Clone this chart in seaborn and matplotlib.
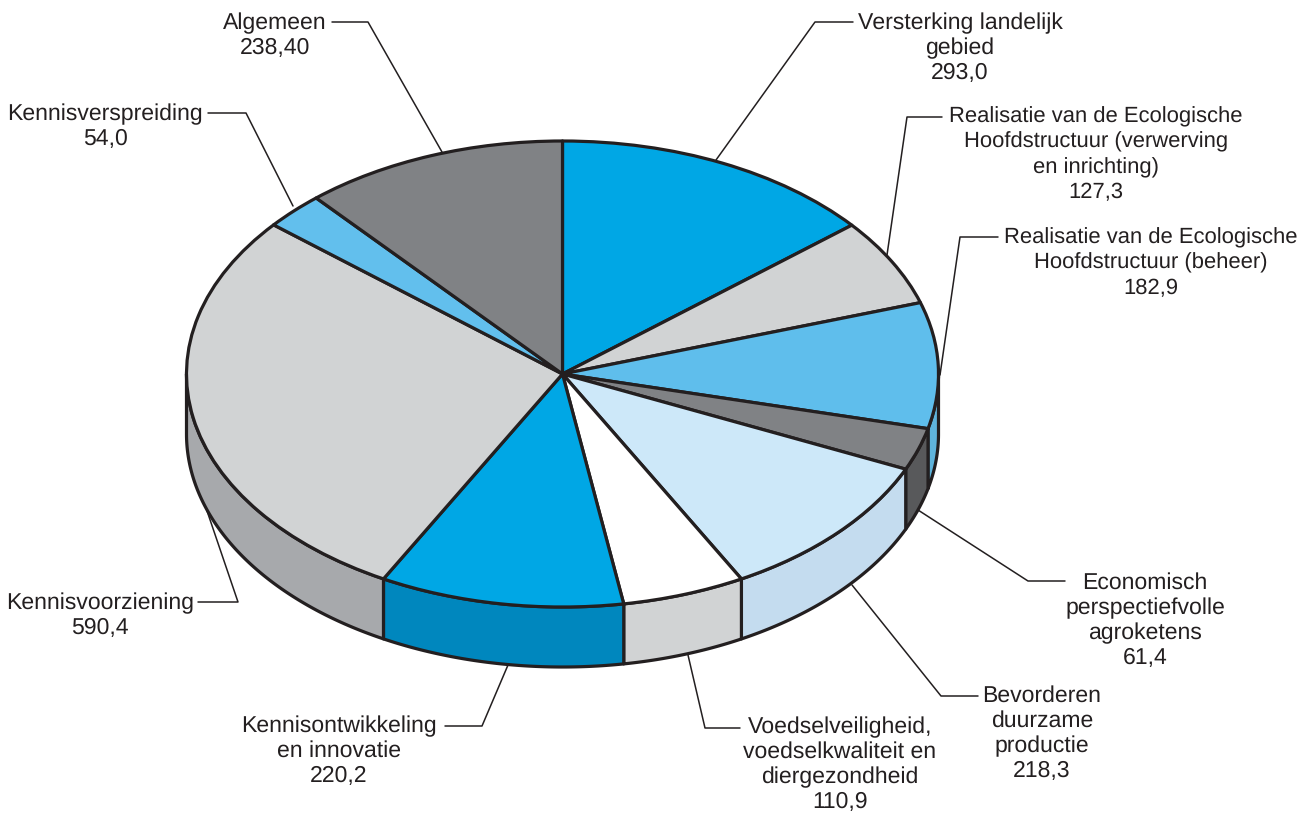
import numpy as np
import seaborn as sns
import matplotlib.pyplot as plt

# begrotingsposten, met de klok mee vanaf boven
categories = ["Versterking landelijk\ngebied",
              "Realisatie van de Ecologische\nHoofdstructuur (verwerving\nen inrichting)",
              "Realisatie van de Ecologische\nHoofdstructuur (beheer)",
              "Economisch\nperspectiefvolle\nagroketens",
              "Bevorderen\nduurzame\nproductie",
              "Voedselveiligheid,\nvoedselkwaliteit en\ndiergezondheid",
              "Kennisontwikkeling\nen innovatie",
              "Kennisvoorziening",
              "Kennisverspreiding",
              "Algemeen"]
values = [293.0, 127.3, 182.9, 61.4, 218.3, 110.9, 220.2, 590.4, 54.0, 238.40]
value_labels = ["293,0", "127,3", "182,9", "61,4", "218,3", "110,9", "220,2", "590,4", "54,0", "238,40"]

top_colors = ["#00a7e5", "#d1d3d4", "#5fbeec", "#808285", "#cde8f9",
              "#ffffff", "#00a7e5", "#d1d3d4", "#62bfed", "#808285"]
side_colors = ["#0087be", "#a7a9ac", "#5fb4dc", "#58595b", "#c4dcef",
               "#d1d3d4", "#0087be", "#a7a9ac", "#62bfed", "#808285"]

# plaats van de labels in pixels (midden x, eerste regel y) en de hulplijnen
label_pos = [(960, 23), (1096, 117), (1151, 238), (1145, 583), (1042, 696),
             (840, 727), (339, 726), (100, 603), (105, 114), (275, 23)]
leaders = [[(853, 22), (815, 22), (716, 160)],
           [(942, 117), (907, 117), (887, 255)],
           [(998, 237), (960, 237), (940, 375)],
           [(1065, 581), (1028, 581), (918, 510)],
           [(978, 696), (941, 696), (852, 585)],
           [(740, 728), (705, 728), (688, 655)],
           [(445, 726), (482, 726), (508, 665)],
           [(198, 602), (238, 602), (205, 505)],
           [(208, 113), (246, 113), (293, 206)],
           [(332, 22), (368, 22), (442, 152)]]

W, H = 1313, 813
cx, cy, rx, ry, depth = 562.5, 374, 376, 233, 60
ink = "#231f20"

sns.set_theme(style="white")
plt.rcParams["font.family"] = ["Liberation Sans", "DejaVu Sans"]
plt.rcParams["text.hinting"] = "none"
plt.rcParams["text.hinting_factor"] = 1

fig = plt.figure(figsize=(W / 100, H / 100), dpi=100)
ax = fig.add_axes([0, 0, 1, 1])

palette = sns.color_palette(top_colors)
d = depth / ry


def px(x, y):
    return (x - cx) / rx, (cy - y) / ry


# zijkanten van de taart
angles = np.cumsum([0] + values) / sum(values) * 360
for i in range(len(values)):
    a = max(angles[i], 90)
    b = min(angles[i + 1], 270)
    if a >= b:
        continue
    t = np.radians(np.linspace(a, b, 100))
    xs = np.r_[np.sin(t), np.sin(t)[::-1]]
    ys = np.r_[np.cos(t), np.cos(t)[::-1] - d]
    ax.fill(xs, ys, facecolor=side_colors[i], edgecolor=ink, linewidth=2.3, joinstyle="round")

# bovenkant
ax.pie(values, colors=palette, startangle=90, counterclock=False, radius=1,
       wedgeprops={"edgecolor": ink, "linewidth": 2.3, "joinstyle": "round"})

# pie() zet de aspect op equal: hier juist plat trekken
ax.set_aspect("auto")
ax.set_xlim(px(0, 0)[0], px(W, 0)[0])
ax.set_ylim(px(0, H)[1], px(0, 0)[1])
ax.axis("off")

for pts in leaders:
    ax.plot(*zip(*[px(x, y) for x, y in pts]), color=ink, linewidth=1.1, zorder=0.5)

for name, val, (x, y) in zip(categories, value_labels, label_pos):
    lines = name.split("\n") + [val]
    # de lange Realisatie-labels iets kleiner, anders raken ze de hulplijn
    size = 16.2 if name.startswith("Realisatie") else 16.4
    for j, line in enumerate(lines):
        ax.text(*px(x, y + j * 25.2), line, ha="center", va="center", fontsize=size, color=ink)

fig.savefig("out.png", dpi=100, facecolor="white")
